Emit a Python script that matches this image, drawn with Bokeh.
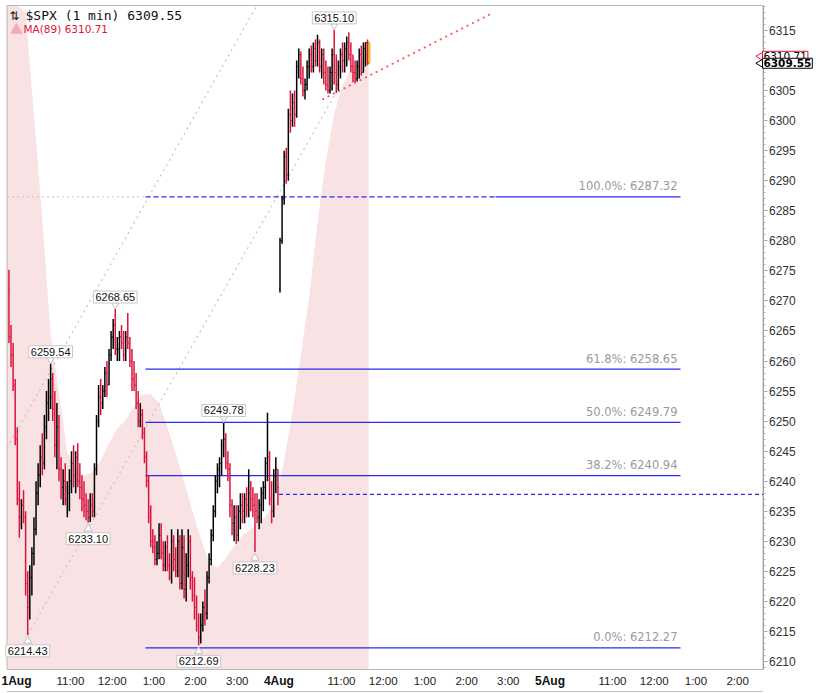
import numpy as np
from bokeh.plotting import figure
from bokeh.models import Range1d, FixedTicker, Label
from bokeh.core.properties import value
from bokeh.embed import file_html
from bokeh.resources import INLINE

# ------------------------------------------------------------------ data
# $SPX, bars of 3 minutes (open = previous close)
day1_open = 6272.0
day1_high = [6275.2, 6266, 6263, 6257, 6249, 6240, 6237, 6238.5, 6235, 6225,
             6226, 6229, 6234, 6240, 6243, 6246, 6248, 6251, 6255, 6257,
             6259.54, 6258, 6255, 6253, 6251, 6244, 6242, 6243, 6240, 6242,
             6245, 6246, 6245, 6246.3, 6243, 6241, 6240, 6238, 6237, 6238,
             6238, 6243, 6251, 6256, 6257, 6256, 6259, 6260, 6262, 6265,
             6267, 6268.65, 6264, 6265, 6266, 6265, 6265, 6268, 6264, 6262,
             6260, 6258, 6255, 6253, 6252, 6249, 6245, 6241, 6236, 6232,
             6231, 6230, 6233, 6233, 6230, 6230, 6231, 6228, 6232, 6231,
             6229, 6232, 6231, 6232, 6231, 6228, 6232, 6231, 6225, 6224,
             6221, 6218, 6218, 6220, 6222, 6225, 6228, 6232, 6236, 6241,
             6243, 6244, 6247, 6249.78, 6248, 6245, 6243, 6237, 6236, 6236,
             6236, 6238, 6238, 6238, 6239, 6242, 6240, 6239, 6238, 6238,
             6237, 6239, 6240, 6244, 6251.4, 6245, 6240, 6242, 6244, 6242]
day1_low = [6263, 6259, 6255, 6246, 6236, 6230.6, 6232, 6233, 6221, 6214.43,
            6217, 6221, 6226, 6231, 6236, 6239, 6241, 6242, 6247, 6250,
            6252, 6250, 6244, 6242, 6240, 6237, 6236, 6236, 6234, 6235,
            6238, 6239, 6238, 6239, 6237, 6235, 6234, 6233.5, 6233.1, 6233.2,
            6234, 6234, 6241, 6249, 6251, 6252, 6254, 6254, 6256, 6260,
            6262, 6261, 6260, 6260, 6262, 6260, 6260, 6262, 6259, 6255,
            6255, 6252, 6249, 6249, 6247, 6243, 6239, 6233, 6229, 6228,
            6226, 6226, 6227, 6227, 6225, 6225, 6225, 6223.5, 6223, 6225,
            6224, 6224, 6222, 6222, 6220.5, 6220, 6224, 6222, 6220, 6217,
            6215, 6212.69, 6213, 6215, 6216, 6217, 6223, 6226, 6230, 6234,
            6238, 6239, 6241, 6244, 6242, 6240, 6234, 6231, 6230, 6229.6,
            6230, 6232, 6233, 6233, 6234, 6234, 6235, 6234, 6228.23, 6233,
            6232, 6233, 6235, 6237, 6240, 6236, 6233, 6234, 6238, 6236]
day1_close = [6264, 6261, 6256, 6247, 6237, 6234, 6236, 6234, 6223, 6219,
              6224, 6228, 6232, 6238, 6241, 6244, 6243, 6249, 6253, 6254,
              6257, 6252, 6246, 6249, 6242, 6239, 6240, 6237, 6238, 6240,
              6243, 6241, 6244, 6240, 6239, 6237, 6236, 6235, 6234, 6236,
              6235, 6242, 6250, 6254, 6253, 6255, 6258, 6256, 6261, 6264,
              6266, 6262, 6262, 6264, 6263, 6261, 6264, 6263, 6260, 6257,
              6256, 6253, 6250, 6251, 6248, 6244, 6240, 6234, 6230, 6229,
              6227, 6228, 6231, 6228, 6226, 6229, 6226, 6224, 6230, 6227,
              6225, 6230, 6223, 6229, 6222, 6226, 6230, 6224, 6221, 6219,
              6216, 6214, 6216, 6219, 6218, 6224, 6227, 6231, 6235, 6240,
              6242, 6243, 6246, 6247, 6243, 6242, 6236, 6233, 6234, 6231,
              6235, 6236, 6235, 6237, 6236, 6238, 6237, 6236, 6235, 6234,
              6236, 6238, 6239, 6243, 6244, 6237, 6235, 6241, 6242, 6239]

day2_open = 6272.0
day2_high = [6280.5, 6287.5, 6295, 6295.5, 6302, 6305, 6304.5, 6305, 6310, 6312,
             6311.5, 6309, 6307, 6310, 6312, 6312.5, 6313, 6313.5, 6314.3, 6313.5,
             6312, 6312, 6310, 6309, 6309, 6312, 6315.10, 6311, 6310, 6312,
             6313, 6313, 6314, 6314.7, 6313, 6311, 6310, 6310, 6312, 6312.5,
             6313, 6313, 6313.5]
day2_low = [6271.4, 6279.5, 6286, 6289.5, 6290, 6298, 6299, 6299, 6300.5, 6307,
            6306, 6304, 6303.5, 6305, 6307, 6308, 6308, 6309, 6309, 6308,
            6307, 6306, 6305, 6304.5, 6304.5, 6305, 6306, 6304.6, 6305, 6307,
            6308, 6308, 6309, 6310, 6308, 6306.4, 6306.4, 6306.5, 6307, 6307.5,
            6308, 6309, 6309.2]
day2_close = [6280, 6287, 6294, 6291, 6301, 6300, 6303, 6301, 6309, 6311,
              6307, 6305, 6306, 6309, 6311, 6309, 6312, 6310, 6313, 6309,
              6311, 6308, 6306, 6305, 6308, 6311, 6308, 6306, 6309, 6311,
              6310, 6312, 6313, 6311, 6309, 6308, 6307, 6309, 6311, 6308,
              6312, 6313, 6309.55]

# MA(89), read every 4th bar
ma_idx = list(range(0, 173, 4))
ma_vals = [6345, 6334, 6318, 6301, 6283.5, 6264.5, 6254.7, 6244.8, 6242, 6241,
           6241.5, 6243.5, 6246.3, 6248.8, 6250.2, 6252.5, 6254.4, 6254.5, 6253, 6249,
           6244.6, 6240, 6235, 6230.5, 6226.5, 6225.6, 6227.2, 6229.2, 6231, 6232,
           6233.1, 6234.6, 6236.8, 6243.4, 6251.5, 6261, 6270.6, 6283, 6293.3, 6301.2,
           6305.9, 6308.6, 6310, 6310.71]

fib_pct = ["100.0%", "61.8%", "50.0%", "38.2%", "0.0%"]
fib_levels = [6287.32, 6258.65, 6249.79, 6240.94, 6212.27]
support_level = 6237.8

time_ticks = [90, 150, 210, 270, 330, 480, 540, 600, 660, 720, 870, 930, 990, 1050]
time_labels = ["11:00", "12:00", "1:00", "2:00", "3:00",
               "11:00", "12:00", "1:00", "2:00", "3:00",
               "11:00", "12:00", "1:00", "2:00"]
day_ticks = [0, 390, 780]
day_labels = ["1Aug", "4Aug", "5Aug"]
price_ticks = list(range(6210, 6320, 5))

# callouts: (bar index, which end)
callouts = [(20, "H"), (51, "H"), (103, "H"), (156, "H"),
            (9, "L"), (38, "L"), (91, "L"), (118, "L")]

# ------------------------------------------------------------------ geometry
W, H = 830, 693                       # whole canvas = plot frame
CL, CR, CT, CB = 6.5, 762.5, 5, 669   # chart box in pixels
PPM = 0.695                           # px per minute
PPP = 6.0095                          # px per index point


def mx(px):   # pixel x -> minutes
    return (px - 7.4) / PPM


def py(pix):  # pixel y -> price
    return 6210 + (661 - pix) / PPP


X0, X1, Y0, Y1 = mx(CL), mx(CR), py(CB), py(CT)

BAR = 3
n1, n2 = len(day1_close), len(day2_close)
xs = np.array([BAR * i + 1.5 for i in range(n1)] +
              [390 + BAR * j + 1.5 for j in range(n2)])
highs = np.array(day1_high + day2_high, dtype=float)
lows = np.array(day1_low + day2_low, dtype=float)
closes = np.array(day1_close + day2_close, dtype=float)
opens = np.concatenate([[day1_open], closes[:n1 - 1], [day2_open], closes[n1:-1]])
RED = "#dc143c"
BLUE = "#2a2af0"
colors = np.where(closes >= opens, "#000000", RED)

p = figure(frame_width=W, frame_height=H, x_range=Range1d(mx(0), mx(W)),
           y_range=Range1d(py(H), py(0)), y_axis_location="right",
           toolbar_location=None, output_backend="svg",
           min_border=0, min_border_left=0, min_border_right=0,
           min_border_top=0, min_border_bottom=0,
           background_fill_color="white", border_fill_color="white",
           outline_line_color=None)
p.xgrid.visible = False
p.ygrid.visible = False

# MA(89) shaded area
ma_x = [X0] + list(xs[ma_idx]) + [xs[-1] + 1.5]
ma_y = [ma_vals[0]] + ma_vals + [ma_vals[-1]]
p.varea(x=ma_x, y1=[Y0] * len(ma_x), y2=[min(v, Y1) for v in ma_y],
        fill_color="#f8e2e3")

# chart box and top of the lower pane
p.quad(left=[X0], right=[X1], bottom=[Y0], top=[Y1], fill_color=None,
       line_color="#b8b8b8", line_width=1)
p.line([X0, X1], [py(691), py(691)], line_color="#c0c0c0", line_width=1)

# gray dotted channel lines and left extension of 100% level
ch1 = ([X0, mx(256.3)], [py(447.6), Y1])
ch2 = ([xs[9], mx(338)], [lows[9], py(88)])
for cx, cy in (ch1, ch2):
    p.line(cx, cy, line_color="#c4c4c4", line_dash="2 4", line_width=1.2)
p.line([X0, mx(145)], [fib_levels[0]] * 2, line_color="#c4c4c4",
       line_dash="2 3", line_width=1)

# Fibonacci retracement
fib_x0, fib_dash_end, fib_x1 = mx(145), mx(495), mx(680)
for k, (pc, lv) in enumerate(zip(fib_pct, fib_levels)):
    if k == 0:
        p.line([fib_x0, fib_dash_end], [lv, lv], line_color=BLUE,
               line_dash="5 3", line_width=1.3)
        p.line([fib_dash_end, fib_x1], [lv, lv], line_color=BLUE, line_width=1.3)
    else:
        p.line([fib_x0, fib_x1], [lv, lv], line_color=BLUE, line_width=1.3)
    p.add_layout(Label(x=mx(677), y=lv + 3.5 / PPP, text=f"{pc}: {lv:.2f}",
                       text_align="right", text_baseline="bottom",
                       text_font="DejaVu Sans", text_font_size="11.5px",
                       text_color="#9a9a9a"))

p.line([xs[n1] - 1.5, X1], [support_level] * 2, line_color=BLUE,
       line_dash="4 3", line_width=1.3)

# red dotted trend line
p.line([mx(321.7), mx(491.7)], [py(99), py(12.7)], line_color="#f05a5a",
       line_dash="2 4", line_width=1.8)

# last bar highlight
p.quad(left=[xs[-1] - 3.4], right=[xs[-1] + 3.4],
       top=[max(opens[-1], closes[-1])], bottom=[min(opens[-1], closes[-1])],
       fill_color="#f7d54a", line_color="#e8ae1e")

# OHLC bars
p.segment(x0=xs, y0=lows, x1=xs, y1=highs, line_color=colors, line_width=1.5)
p.segment(x0=xs - 1.4, y0=opens, x1=xs, y1=opens, line_color=colors, line_width=1)
p.segment(x0=xs, y0=closes, x1=xs + 1.4, y1=closes, line_color=colors, line_width=1)

# callout boxes
hx, hy, lx, ly = [], [], [], []
for idx, kind in callouts:
    v = highs[idx] if kind == "H" else lows[idx]
    if kind == "H":
        yb = v + 12 / PPP
        hx.append(xs[idx]); hy.append(v + 4 / PPP)
    else:
        yb = v - 16 / PPP
        lx.append(xs[idx]); ly.append(v - 6 / PPP)
    p.add_layout(Label(x=xs[idx], y=yb, text=f"{v:.2f}", text_align="center",
                       text_baseline="middle", text_font="Liberation Sans",
                       text_font_size="11px", text_color="#111111",
                       background_fill_color="white", border_line_color="#c8c8c8",
                       padding=2))
p.scatter(hx, hy, marker="inverted_triangle", size=7, fill_color="white",
          line_color="#c0c0c0")
p.scatter(lx, ly, marker="triangle", size=8, fill_color="white",
          line_color="#c0c0c0")

# legend
p.add_layout(Label(x=mx(9), y=py(15), text="⇅", text_font="DejaVu Sans",
                   text_font_size="12px", text_baseline="middle",
                   text_color="#111111"))
p.add_layout(Label(x=mx(25), y=py(15), text=f"$SPX (1 min) {closes[-1]:.2f}",
                   text_font="DejaVu Sans Mono", text_font_size="13px",
                   text_baseline="middle", text_color="#111111"))
p.scatter([mx(16)], [py(29.5)], marker="triangle", size=11,
          fill_color="#f2aab4", line_color="#f2aab4")
p.add_layout(Label(x=mx(23), y=py(28.5), text=f"MA(89) {ma_vals[-1]:.2f}",
                   text_font="DejaVu Sans", text_font_size="10.5px",
                   text_baseline="middle", text_color=RED))

# axes, drawn at the chart box edges
ya = p.yaxis[0]
ya.fixed_location = X1
ya.bounds = (Y0, Y1)
ya.ticker = FixedTicker(ticks=price_ticks, minor_ticks=list(range(6209, 6320)))
ya.axis_line_color = "#a0a0a0"
ya.major_tick_line_color = "#a0a0a0"
ya.minor_tick_line_color = "#b0b0b0"
ya.major_tick_out = 4
ya.major_tick_in = 0
ya.minor_tick_out = 2
ya.minor_tick_in = 0
ya.major_label_standoff = 2
ya.major_label_text_font = "Liberation Sans"
ya.major_label_text_font_size = "12px"
ya.major_label_text_color = "#333333"

xa = p.xaxis[0]
xa.fixed_location = Y0
xa.bounds = (X0, X1)
xa.ticker = FixedTicker(ticks=time_ticks)
xa.major_label_overrides = {t: s for t, s in zip(time_ticks, time_labels)}
xa.axis_line_color = "#b8b8b8"
xa.major_tick_out = 0
xa.major_tick_in = 0
xa.minor_tick_out = 0
xa.minor_tick_in = 0
xa.major_label_standoff = 5
xa.major_label_text_font = "Liberation Sans"
xa.major_label_text_font_size = "11.5px"
xa.major_label_text_color = "#222222"

# day labels: the first one is kept inside the canvas, the others centred
p.text(x=[mx(1)], y=[py(680)], text=day_labels[:1],
       text_align="left", text_baseline="middle",
       text_font=value("Liberation Sans"), text_font_style="bold",
       text_font_size="12px", text_color="#111111")
p.text(x=day_ticks[1:], y=[py(680)] * (len(day_ticks) - 1), text=day_labels[1:],
       text_align="center", text_baseline="middle",
       text_font=value("Liberation Sans"), text_font_style="bold",
       text_font_size="12px", text_color="#111111")

# right-axis value tags
for val, edge, bold in ((ma_vals[-1], RED, False), (closes[-1], "#000000", True)):
    p.scatter([mx(760.5)], [val], marker="triangle", angle=np.pi / 2, size=9,
              fill_color="white", line_color=edge)
    p.add_layout(Label(x=mx(762), y=val, text=f"{val:.2f}",
                       text_font="DejaVu Sans", text_font_size="10.5px",
                       text_font_style="bold" if bold else "normal",
                       text_baseline="middle", text_color="#000000",
                       background_fill_color="white", border_line_color=edge,
                       padding=1))

open("out.html", "w").write(file_html(p, INLINE))
